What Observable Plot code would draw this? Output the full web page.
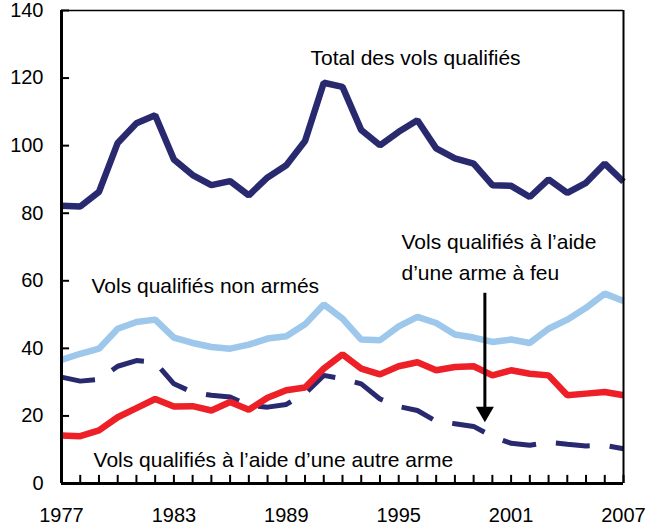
<!DOCTYPE html>
<html>
<head>
<meta charset="utf-8">
<script src="https://cdn.jsdelivr.net/npm/d3@7"></script>
<script src="https://cdn.jsdelivr.net/npm/@observablehq/plot@0.6"></script>
<style>
  html, body { margin: 0; padding: 0; background: #fff; }
</style>
</head>
<body>
<div id="chart"></div>
<script>
const years = [1977,1978,1979,1980,1981,1982,1983,1984,1985,1986,1987,1988,1989,1990,1991,1992,1993,1994,1995,1996,1997,1998,1999,2000,2001,2002,2003,2004,2005,2006,2007];
const total    = [82.2,82,86.3,100.8,106.6,109,95.9,91.3,88.3,89.5,85.3,90.6,94.2,101.4,118.6,117.4,104.6,100.1,104.1,107.5,99.2,96.2,94.7,88.3,88.1,84.8,90,86,89,94.7,89.3];
const unarmed  = [36.6,38.4,39.9,45.8,47.8,48.5,43.2,41.6,40.4,39.9,41.1,42.9,43.6,47.1,53,48.8,42.6,42.4,46.5,49.3,47.5,44.1,43.2,41.9,42.6,41.6,45.8,48.5,52,56.2,54];
const firearm  = [14.2,14,15.7,19.6,22.3,25,22.8,22.9,21.6,24.1,21.8,25.4,27.6,28.4,34,38.2,34,32.3,34.7,35.9,33.5,34.5,34.7,32,33.5,32.5,32,26.1,26.6,27.1,26.1];
const other    = [31.5,30.3,30.8,34.7,36.4,35.9,29.5,27,26.1,25.6,23.1,22.6,23.4,26.6,32,31,29.5,25,22.8,21.6,18.4,17.7,16.9,13.9,11.9,11.3,12.2,11.6,11.1,11.3,10.3];
const xTickLabels = [1977,1983,1989,1995,2001,2007];
const yTicks = [0,20,40,60,80,100,120,140];
const labels = [
  {x: 1990.29, y: 125.9, text: "Total des vols qualifiés"},
  {x: 1978.6,  y: 58.4,  text: "Vols qualifiés non armés"},
  {x: 1978.71, y: 6.8,   text: "Vols qualifiés à l’aide d’une autre arme"},
  {x: 1995.15, y: 71.4,  text: "Vols qualifiés à l’aide"},
  {x: 1995.15, y: 62.2,  text: "d’une arme à feu"}
];
const arrowLine = [{x: 1999.6, y1: 56.3, y2: 22.5}];
const arrowHead = [{x: 1999.6, y: 21.2}];

const rows = arr => years.map((yr, i) => ({year: yr, value: arr[i]}));

const navy = "#29296f";
const lightBlue = "#9dc7eb";
const red = "#ee2027";

const chart = Plot.plot({
  width: 652,
  height: 527,
  marginLeft: 61,
  marginRight: 29,
  marginTop: 10,
  marginBottom: 44,
  style: {fontFamily: "'Liberation Sans', Arial, sans-serif", background: "#fff", color: "#000"},
  x: {domain: [1977, 2007]},
  y: {domain: [0, 140]},
  marks: [
    Plot.axisY({ticks: yTicks, tickSize: 0, tickPadding: 18, fontSize: 20, label: null}),
    Plot.axisX({ticks: xTickLabels, tickSize: 0, tickPadding: 24, fontSize: 20, label: null, tickFormat: d => String(d)}),
    // inner tick marks
    Plot.ruleX(years, {y1: 0, y2: 2.4, stroke: "#000", strokeWidth: 2}),
    Plot.ruleY(yTicks, {x1: 1977, x2: 1977.43, stroke: "#000", strokeWidth: 2}),
    // series
    Plot.line(rows(other), {x: "year", y: "value", stroke: navy, strokeWidth: 5, strokeDasharray: "34,20", strokeLinejoin: "miter", strokeLinecap: "butt"}),
    Plot.line(rows(firearm), {x: "year", y: "value", stroke: red, strokeWidth: 6.5, strokeLinejoin: "miter", strokeLinecap: "butt"}),
    Plot.line(rows(unarmed), {x: "year", y: "value", stroke: lightBlue, strokeWidth: 6.5, strokeLinejoin: "miter", strokeLinecap: "butt"}),
    Plot.line(rows(total), {x: "year", y: "value", stroke: navy, strokeWidth: 6.5, strokeLinejoin: "miter", strokeLinecap: "butt"}),
    // frame
    Plot.ruleX([2007], {stroke: "#000", strokeWidth: 2}),
    Plot.ruleY([140], {stroke: "#000", strokeWidth: 1.5}),
    Plot.ruleX([1977], {stroke: "#000", strokeWidth: 3}),
    Plot.ruleY([0], {stroke: "#000", strokeWidth: 3}),
    // arrow
    Plot.ruleX(arrowLine, {x: "x", y1: "y1", y2: "y2", stroke: "#000", strokeWidth: 3}),
    Plot.dot(arrowHead, {x: "x", y: "y", symbol: "triangle", r: 6.7, fill: "#000", stroke: "none", rotate: 180}),
    // labels
    Plot.text(labels, {x: "x", y: "y", text: "text", textAnchor: "start", lineAnchor: "middle", fontSize: 21, fill: "#000"})
  ]
});
document.getElementById("chart").appendChild(chart);
</script>
</body>
</html>
